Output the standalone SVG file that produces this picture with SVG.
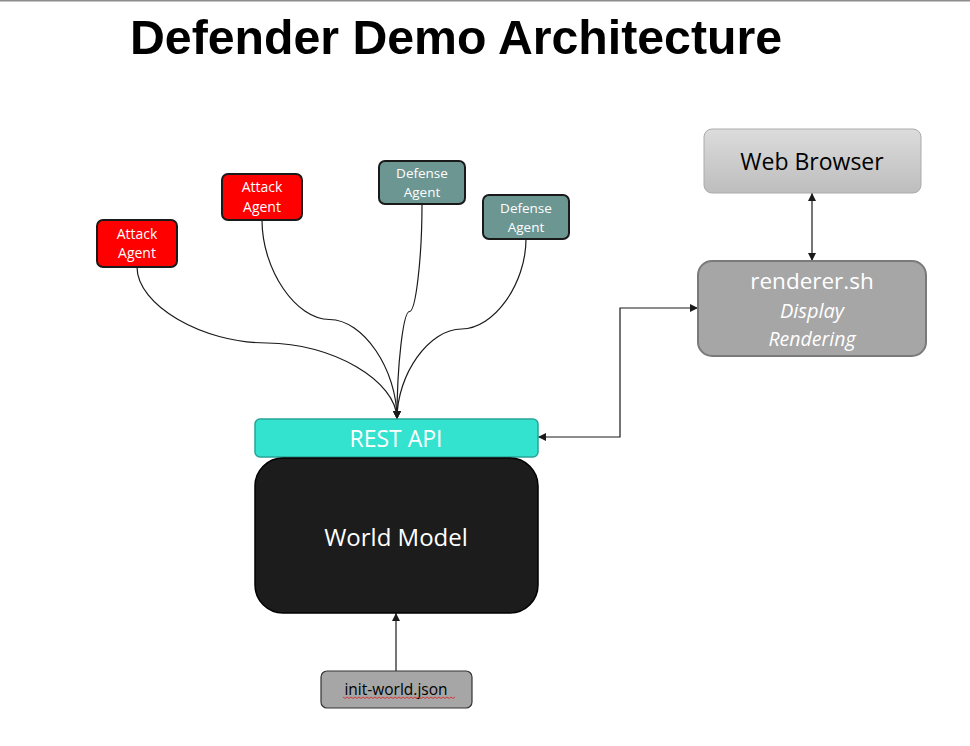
<svg xmlns="http://www.w3.org/2000/svg" width="970" height="746" viewBox="0 0 970 746">
<defs>
<marker id="arr" viewBox="0 0 10 10" refX="10" refY="5" markerWidth="8" markerHeight="8" markerUnits="userSpaceOnUse" orient="auto-start-reverse">
<path d="M0,0 L10,5 L0,10 z" fill="#1a1a1a"/>
</marker>
<linearGradient id="gWeb" x1="0" y1="0" x2="0" y2="1">
<stop offset="0" stop-color="#dcdcdc"/>
<stop offset="1" stop-color="#bdbdbd"/>
</linearGradient>
<style>
.lbl{font-family:"Open Sans","Noto Sans","Liberation Sans",sans-serif;text-anchor:middle}
.conn{fill:none;stroke:#1a1a1a;stroke-width:1.2}
.atk{fill:#ff0000;stroke:#1a1a1a;stroke-width:2}
.def{fill:#6b9692;stroke:#1a1a1a;stroke-width:2}
</style>
</defs>
<rect width="970" height="746" fill="#ffffff"/>
<line x1="0" y1="0.75" x2="970" y2="0.75" stroke="#8c8c8c" stroke-width="1.5"/>
<text x="130" y="54" font-family="'Liberation Sans',Arial,sans-serif" font-weight="bold" font-size="48" textLength="652" lengthAdjust="spacingAndGlyphs" fill="#000">Defender Demo Architecture</text>

<g id="connectors">
<path class="conn" d="M137,267 C137,305 202,343 267,343 C332,343 397,381 397,419" marker-end="url(#arr)"/>
<path class="conn" d="M262,220 C262,270 296,319.5 329.5,319.5 C363,319.5 397,369 397,419" marker-end="url(#arr)"/>
<path class="conn" d="M422,204 C422,258 415.75,311.5 409.5,311.5 C403.25,311.5 397,365 397,419" marker-end="url(#arr)"/>
<path class="conn" d="M526,239 C526,284 493.75,329 461.5,329 C429.25,329 397,374 397,419" marker-end="url(#arr)"/>
<path class="conn" d="M812,193 L812,261" marker-start="url(#arr)" marker-end="url(#arr)"/>
<path class="conn" d="M538,437 L620,437 L620,308 L698,308" marker-start="url(#arr)" marker-end="url(#arr)"/>
<path class="conn" d="M396,671 L396,613" marker-end="url(#arr)"/>
</g>

<g id="attack1">
<rect class="atk" x="97" y="220" width="80" height="47" rx="6"/>
<text class="lbl" x="137" y="239" font-size="14" fill="#fff">Attack</text>
<text class="lbl" x="137" y="258" font-size="14" fill="#fff">Agent</text>
</g>
<g id="attack2">
<rect class="atk" x="222" y="174" width="80" height="46" rx="6"/>
<text class="lbl" x="262" y="192" font-size="14" fill="#fff">Attack</text>
<text class="lbl" x="262" y="212" font-size="14" fill="#fff">Agent</text>
</g>
<g id="defense1">
<rect class="def" x="379" y="161" width="86" height="43" rx="6"/>
<text class="lbl" x="422" y="178" font-size="13.5" fill="#fff">Defense</text>
<text class="lbl" x="422" y="197" font-size="13.5" fill="#fff">Agent</text>
</g>
<g id="defense2">
<rect class="def" x="483" y="195" width="86" height="44" rx="6"/>
<text class="lbl" x="526" y="213" font-size="13.5" fill="#fff">Defense</text>
<text class="lbl" x="526" y="232" font-size="13.5" fill="#fff">Agent</text>
</g>

<g id="rest-api">
<rect x="255" y="419" width="283" height="38" rx="5" fill="#33e3d0" stroke="#27a596" stroke-width="1.5"/>
<text class="lbl" x="396" y="447" font-size="23" fill="#fff">REST API</text>
</g>
<g id="world-model">
<rect x="255" y="458" width="283" height="155" rx="28" fill="#1c1c1c" stroke="#000" stroke-width="1.5"/>
<text class="lbl" x="396" y="546" font-size="24" fill="#fff">World Model</text>
</g>
<g id="init-world">
<rect x="321" y="671" width="151" height="37" rx="6" fill="#a6a6a6" stroke="#333" stroke-width="1.2"/>
<text class="lbl" x="396" y="695" font-size="15.5" fill="#000">init-world.json</text>
<path d="M343,697 l2,1.5 l2,-1.5 l2,1.5 l2,-1.5 l2,1.5 l2,-1.5 l2,1.5 l2,-1.5 l2,1.5 l2,-1.5 l2,1.5 l2,-1.5 l2,1.5 l2,-1.5 l2,1.5 l2,-1.5 l2,1.5 l2,-1.5 l2,1.5 l2,-1.5 l2,1.5 l2,-1.5 l2,1.5 l2,-1.5 l2,1.5 l2,-1.5 l2,1.5 l2,-1.5 l2,1.5 l2,-1.5 l2,1.5 l2,-1.5 l2,1.5 l2,-1.5 l2,1.5 l2,-1.5 l2,1.5 l2,-1.5 l2,1.5 l2,-1.5 l2,1.5 l2,-1.5 l2,1.5 l2,-1.5 l2,1.5 l2,-1.5 l2,1.5 l2,-1.5 l2,1.5 l2,-1.5 l2,1.5 l2,-1.5 l2,1.5 l2,-1.5 l2,1.5 l2,-1.5" fill="none" stroke="#e02020" stroke-width="0.8"/>
</g>

<g id="web-browser">
<rect x="704" y="129" width="217" height="64" rx="8" fill="url(#gWeb)" stroke="#ababab" stroke-width="1"/>
<text class="lbl" x="812" y="170" font-size="23" fill="#000">Web Browser</text>
</g>
<g id="renderer">
<rect x="698" y="261" width="228" height="95" rx="14" fill="#a6a6a6" stroke="#7a7a7a" stroke-width="2"/>
<text class="lbl" x="812" y="289" font-size="22.5" fill="#fff">renderer.sh</text>
<text class="lbl" x="812" y="318" font-size="20" font-style="italic" fill="#fff">Display</text>
<text class="lbl" x="812" y="346" font-size="19.5" font-style="italic" fill="#fff">Rendering</text>
</g>
</svg>
